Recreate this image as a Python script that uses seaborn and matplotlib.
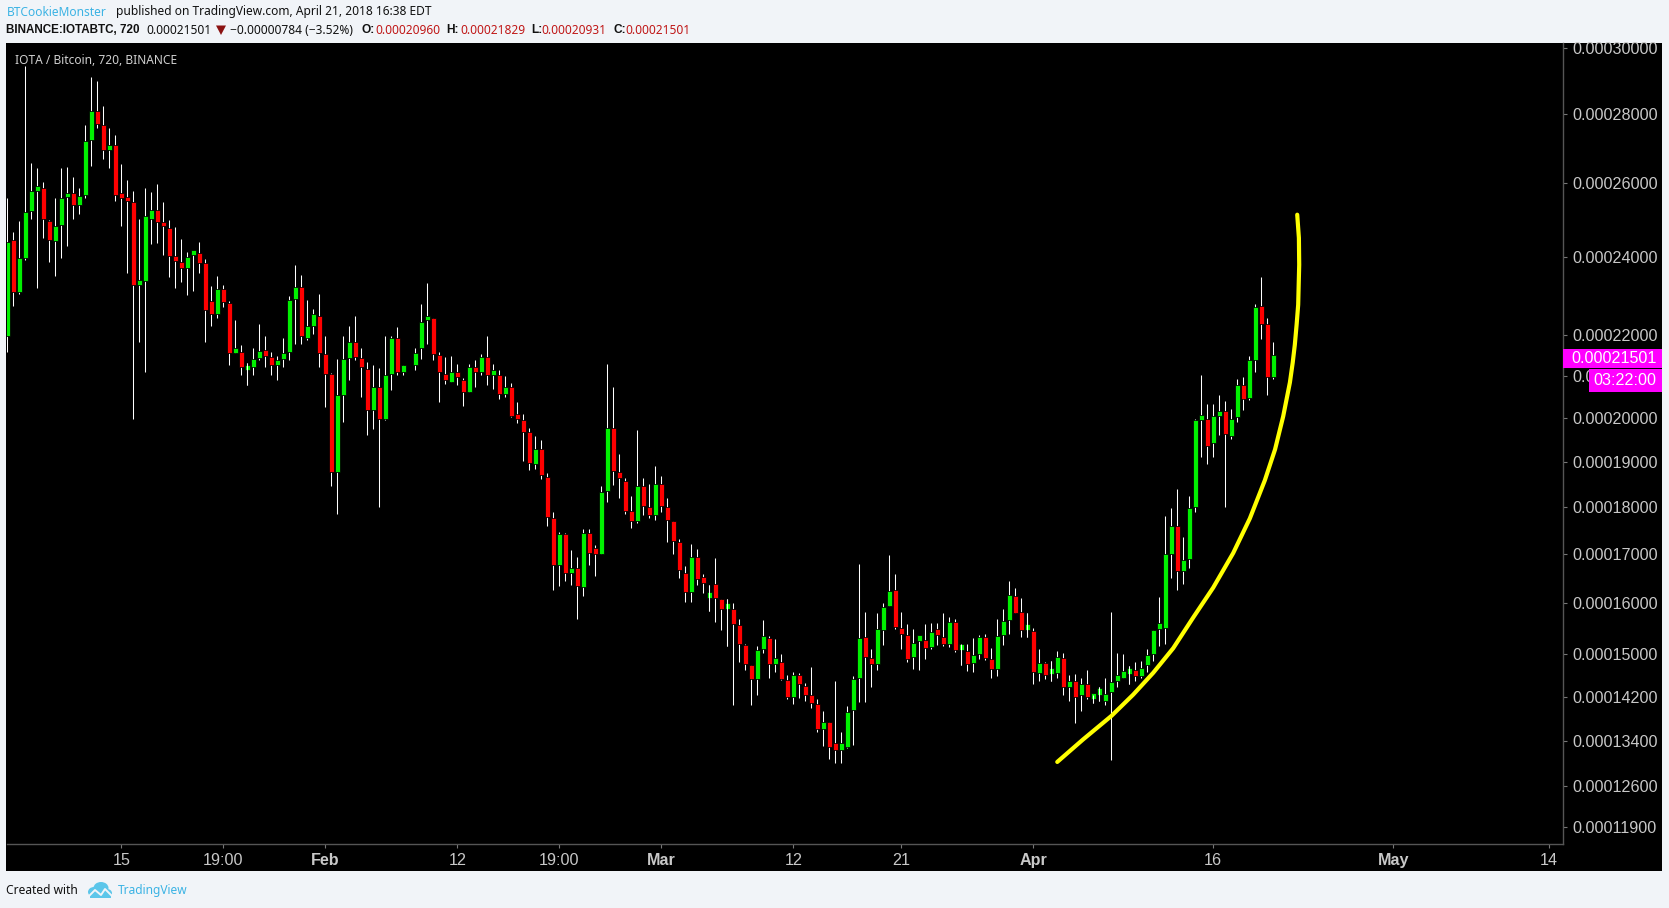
import numpy as np
import pandas as pd
import matplotlib
matplotlib.use('Agg')
import matplotlib.pyplot as plt
from matplotlib.patches import Rectangle, Ellipse, Polygon
import seaborn as sns

nan = float('nan')

# prices in satoshi, one bar every 720 minutes (bar 67 is the exchange outage)
opens = [
    21980, 24450, 23090, 23970, 25240, 25790, 25880, 24960, 24420, 24860,
    25620, 25740, 25400, 25680, 27220, 28070, 27660, 26950, 27100, 25620,
    25620, 25490, 23270, 23370, 25000, 25270, 24890, 24780, 24000, 23870,
    23710, 24050, 24100, 23840, 22860, 22510, 23170, 22800, 21560, 21580,
    21150, 21200, 21440, 21630, 21460, 21250, 21410, 21580, 22910, 23220,
    21910, 22230, 22480, 21530, 21050, 18770, 20530, 21440, 21810, 21440,
    21170, 20200, 20720, 19990, 21050, 21930, 21100, nan, 21270, 21680,
    22360, 22410, 21510, 21050, 20860, 21080, 20890, 20620, 21200, 21100,
    21460, 21010, 21030, 20570, 20740, 20040, 19950, 19670, 18950, 19280,
    18660, 17760, 16790, 17420, 16610, 16710, 16330, 17460, 17040, 17000,
    18350, 19770, 18770, 18570, 17930, 17700, 18460, 18000, 17830, 18500,
    18000, 17700, 17270, 16610, 16240, 16940, 16470, 16110, 16390, 16080,
    15880, 15880, 15570, 15190, 14790, 14530, 15110, 15310, 14810, 14860,
    14510, 14190, 14600, 14410, 14230, 14060, 13600, 13730, 13260, 13240,
    13290, 13950, 14560, 15330, 14940, 14810, 15470, 15940, 16280, 15490,
    15370, 14960, 15250, 15270, 15150, 15450, 15330, 15210, 15630, 15090,
    15070, 14830, 15000, 15330, 14920, 14730, 15370, 15680, 16140, 15820,
    15470, 15450, 14640, 14830, 14620, 14640, 14940, 14380, 14490, 14230,
    14430, 14150, 14240, 14130, 14280, 14490, 14560, 14620, 14640, 14580,
    14790, 15000, 15490, 15510, 17000, 17590, 16650, 16900, 18000, 19950,
    19990, 19420, 20040, 20160, 19580, 20020, 20790, 20480, 21390, 22730,
    22260, 20960,
]
closes = [
    24380, 23090, 23970, 25210, 25770, 25830, 25000, 24450, 24830, 25600,
    25740, 25400, 25650, 27190, 28070, 27710, 26950, 27100, 25680, 25600,
    25510, 23270, 23370, 25100, 25270, 24940, 24810, 24020, 23890, 23710,
    24000, 24100, 23840, 22610, 22510, 23170, 22830, 21560, 21580, 21200,
    21150, 21410, 21610, 21490, 21250, 21320, 21560, 22880, 23220, 21960,
    22210, 22510, 21560, 21050, 18770, 20530, 21410, 21810, 21460, 21220,
    20200, 20720, 19990, 21030, 21910, 21080, 21250, nan, 21560, 22330,
    22410, 21530, 21080, 20910, 21080, 20960, 20620, 21200, 21100, 21460,
    21010, 21050, 20570, 20740, 20060, 19970, 19690, 18970, 19280, 18700,
    17790, 16790, 17420, 16610, 16710, 16350, 17460, 17040, 17020, 18330,
    19770, 18790, 18640, 17930, 17700, 18460, 18020, 17830, 18500, 18020,
    17720, 17290, 16670, 16240, 16940, 16490, 16410, 16110, 16100, 15880,
    15880, 15590, 15210, 14810, 14530, 15090, 15350, 14810, 14860, 14530,
    14190, 14600, 14430, 14240, 14080, 13600, 13730, 13280, 13240, 13280,
    13910, 14530, 15310, 14960, 14810, 15490, 15920, 16260, 15530, 15390,
    14920, 15230, 15270, 15130, 15430, 15370, 15210, 15630, 15090, 15090,
    14810, 14980, 15330, 14940, 14730, 15350, 15660, 16160, 15800, 15470,
    15470, 14660, 14830, 14600, 14620, 14960, 14380, 14490, 14190, 14430,
    14190, 14150, 14240, 14260, 14470, 14560, 14660, 14620, 14580, 14750,
    14980, 15470, 15510, 17000, 17590, 16650, 16880, 17980, 19950, 19990,
    19370, 20040, 20160, 19630, 19990, 20790, 20450, 21370, 22700, 22280,
    20960, 21501,
]
highs = [
    25590, 24670, 24970, 29450, 26570, 26430, 26040, 24980, 25590, 26430,
    26460, 26180, 25870, 27660, 29100, 28980, 28230, 27590, 27380, 26550,
    26100, 25780, 25010, 25870, 25760, 25980, 25480, 24990, 24800, 24470,
    24120, 24120, 24390, 23940, 23240, 23500, 23270, 22860, 22380, 21760,
    21320, 21680, 22280, 21980, 21580, 21490, 21930, 22980, 23790, 23530,
    22880, 22660, 23040, 21980, 21060, 21410, 21980, 22210, 22470, 21670,
    21330, 21260, 21190, 21970, 21970, 22200, 21250, nan, 21670, 22770,
    23310, 22420, 21570, 21450, 21480, 21290, 20950, 21290, 21380, 21530,
    21970, 21290, 21140, 21000, 20830, 20380, 20100, 19760, 19590, 19500,
    18760, 17890, 17480, 17460, 17090, 16950, 17540, 17540, 17200, 18470,
    21290, 20730, 19180, 18650, 18250, 19720, 18650, 18500, 18900, 18680,
    18210, 17710, 17330, 16770, 17220, 17110, 16600, 16380, 16930, 16090,
    16090, 16010, 15700, 15200, 14800, 15160, 15680, 15360, 15300, 15010,
    14600, 14670, 14650, 14460, 14760, 14160, 13930, 13740, 14500, 13560,
    14030, 14580, 16810, 15820, 15100, 15800, 16010, 16990, 16600, 15820,
    15600, 15500, 15360, 15600, 15620, 15620, 15800, 15740, 15700, 15210,
    15210, 15310, 15380, 15400, 15120, 15700, 15880, 16460, 16320, 16110,
    15800, 15510, 15110, 14860, 14880, 15070, 15020, 14600, 14620, 14550,
    14710, 14230, 14380, 14560, 15820, 15020, 15000, 14770, 14860, 14880,
    15110, 15470, 16120, 17810, 17980, 18410, 17360, 18240, 19990, 21010,
    20320, 20340, 20550, 20410, 20220, 20930, 20980, 21490, 22780, 23470,
    22420, 21829,
]
lows = [
    21570, 22730, 23040, 23920, 25000, 23190, 24510, 23870, 23500, 23970,
    24290, 25000, 25160, 25600, 26500, 27570, 26700, 26440, 25510, 24810,
    23580, 19990, 21830, 21100, 24340, 24370, 24050, 23480, 23190, 23350,
    23010, 23110, 23580, 21830, 22210, 22430, 22710, 21250, 21550, 21010,
    20790, 21010, 21390, 21200, 21010, 20890, 21200, 21390, 21780, 21780,
    21860, 22010, 21200, 20250, 18460, 17850, 19900, 20910, 21370, 20500,
    19620, 19740, 18000, 19950, 20650, 21010, 21010, nan, 21150, 21410,
    21780, 21370, 20380, 20810, 20860, 20790, 20290, 20620, 20740, 21030,
    20790, 20690, 20450, 20500, 20020, 19880, 19010, 18810, 18840, 18610,
    17610, 16280, 16350, 16450, 16370, 15700, 16140, 16790, 16550, 17000,
    18110, 18480, 18210, 17850, 17550, 17660, 17830, 17760, 17720, 17910,
    17270, 17000, 16510, 16020, 16020, 16370, 16220, 15840, 15630, 15470,
    15170, 14040, 14850, 14710, 14040, 14230, 15020, 14560, 14660, 14520,
    14150, 14060, 14170, 14130, 14000, 13550, 13300, 13070, 13000, 13000,
    13260, 13330, 14100, 14100, 14390, 14710, 15190, 15940, 15490, 15110,
    14850, 14730, 14710, 14920, 15110, 15190, 15170, 15150, 15050, 14790,
    14680, 14660, 14920, 14900, 14560, 14580, 15190, 15390, 15800, 15330,
    15330, 14430, 14490, 14530, 14490, 14550, 14240, 14130, 13720, 13930,
    14150, 14080, 14130, 14040, 13050, 14380, 14560, 14430, 14490, 14550,
    14660, 14880, 15170, 15210, 16520, 16280, 16390, 16710, 17890, 19100,
    18950, 19100, 19600, 18000, 19510, 19900, 20200, 20430, 21100, 21890,
    20530, 20931,
]

# hand drawn yellow arc, bar number and price in satoshi
arc_bars = [175.0, 179.3, 184.06, 187.66, 191.0, 194.33, 197.66, 201.0, 204.33,
            207.1, 209.6, 211.3, 212.66, 213.78, 214.25, 214.6, 214.9, 215.16,
            215.33, 215.28, 215.0]
arc_prices = [13020, 13420, 13850, 14240, 14650, 15120, 15720, 16320, 17030,
              17760, 18590, 19280, 20040, 20840, 21320, 21755, 22255, 22755,
              23790, 24500, 25130]

price_ticks = [30000, 28000, 26000, 24000, 22000, 21000, 20000, 19000, 18000,
               17000, 16000, 15000, 14200, 13400, 12600, 11900]
date_ticks = [19, 36, 53, 75, 92, 109, 131, 149, 171, 201, 231, 257]
date_labels = ['15', '19:00', 'Feb', '12', '19:00', 'Mar', '12', '21', 'Apr',
               '16', 'May', '14']
bold_dates = ['Feb', 'Mar', 'Apr', 'May']

W, H = 1669, 908
SAT = 1e-8
SHIFT = 9e-5
BG = '#f1f4f8'
BLUE = '#3bb3e4'
RED = '#c01818'
HEAD = ['Noto Sans', 'DejaVu Sans']
HEAD_BOLD = ['Liberation Sans', 'DejaVu Sans']


def main():
    df = data()
    plot(df)


def data():
    df = pd.DataFrame({'open': opens, 'high': highs, 'low': lows, 'close': closes})
    df = df * SAT
    df['bar'] = range(len(df))
    return df


def box(fig, x0, y0, x1, y1, color, zorder):
    fig.add_artist(Rectangle((x0 / W, 1 - y1 / H), (x1 - x0) / W, (y1 - y0) / H,
                             transform=fig.transFigure, color=color, lw=0,
                             zorder=zorder))


def head(fig, x, y, s, color='#111111', weight='normal', size=8.6):
    family = HEAD_BOLD if weight == 'bold' else HEAD
    fig.text(x / W, 1 - y / H, s, color=color, fontweight=weight, fontsize=size,
             family=family, va='center', ha='left')


def plot(df):
    sns.set_theme(style='dark', rc={'axes.facecolor': 'black', 'figure.facecolor': BG})
    plt.rcParams['font.family'] = ['Liberation Sans', 'DejaVu Sans']

    fig = plt.figure(figsize=(W / 100, H / 100), dpi=100)
    box(fig, 6, 43, 1662, 871, 'black', -2)

    ax = fig.add_axes([6.5 / W, 1 - 844 / H, (1563 - 6.5) / W, (844 - 43) / H])
    ax.set_yscale('function', functions=(lambda v: np.log(v + SHIFT),
                                         lambda v: np.exp(v) - SHIFT))

    up = df[df.close >= df.open]
    down = df[df.close < df.open]
    wicks = ax.vlines(df.bar, df.low, df.high, color='white', lw=0.75, zorder=2)
    wicks.set_snap(True)
    ax.bar(up.bar, (up.close - up.open).clip(lower=1.2e-6), bottom=up.open, width=0.8,
           color='#00f000', edgecolor='black', lw=0.55, zorder=3)
    ax.bar(down.bar, (down.open - down.close).clip(lower=1.2e-6), bottom=down.close,
           width=0.8, color='#ff0000', edgecolor='black', lw=0.55, zorder=3)
    # bars without any range show as a plain wick
    flat = df[df.close == df.open]
    plain = ax.vlines(flat.bar, flat.low, flat.high, color='white', lw=0.75, zorder=4)
    plain.set_snap(True)

    arc = pd.DataFrame({'bar': arc_bars, 'price': np.array(arc_prices) * SAT})
    sns.lineplot(data=arc, x='bar', y='price', sort=False, estimator=None,
                 color='#ffff00', lw=3.0, ax=ax, zorder=5)

    ax.set_xlim(-0.14, 259.3)
    ax.set_ylim(11.62e-5, 30.16e-5)
    ax.set_xlabel('')
    ax.set_ylabel('')

    ax.yaxis.tick_right()
    ax.set_yticks(np.array(price_ticks) * SAT)
    ax.set_yticklabels(['%.8f' % (p * SAT) for p in price_ticks])
    ax.minorticks_off()
    ax.set_xticks(date_ticks)
    ax.set_xticklabels(date_labels)
    ax.tick_params(axis='y', which='both', right=True, left=False, length=3, width=0.8,
                   color='#777777', labelcolor='#c8c8c8', labelsize=11.6, pad=3.5)
    ax.tick_params(axis='x', bottom=True, length=3, width=0.8, color='#777777',
                   labelcolor='#c8c8c8', labelsize=11.6, pad=3.5)
    for label in ax.get_xticklabels():
        if label.get_text() in bold_dates:
            label.set_fontweight('bold')
    for side in ['top', 'left']:
        ax.spines[side].set_visible(False)
    for side in ['right', 'bottom']:
        ax.spines[side].set_color('#555555')
        ax.spines[side].set_linewidth(1)

    # price and countdown flags on the scale
    box(fig, 1563, 349, 1662, 368, '#ff00ff', 6)
    box(fig, 1589, 369, 1662, 392, '#ff00ff', 6)
    for x, y, s in [(1571, 358, '0.00021501'), (1593, 380.5, '03:22:00')]:
        t = fig.text(x / W, 1 - y / H, s, color='white', fontsize=11.6, va='center')
        t.set_zorder(7)

    # header lines
    head(fig, 6.4, 12, 'BTCookieMonster', BLUE)
    head(fig, 115.7, 12, 'published on TradingView.com, April 21, 2018 16:38 EDT')
    head(fig, 6.4, 30, 'BINANCE:IOTABTC, 720', weight='bold', size=8.4)
    head(fig, 146, 30, '0.00021501')
    fig.add_artist(Polygon([(216 / W, 1 - 25.5 / H), (226 / W, 1 - 25.5 / H),
                            (221 / W, 1 - 35 / H)], transform=fig.transFigure,
                           color='#8b1212', lw=0))
    head(fig, 230, 30, '\u22120.00000784 (\u22123.52%)')
    for x, s in [(361.3, 'O:'), (446.3, 'H:'), (531.2, 'L:'), (613, 'C:')]:
        head(fig, x, 30, s, weight='bold')
    for x, s in [(375, '0.00020960'), (460, '0.00021829'), (541.8, '0.00020931'),
                 (624.9, '0.00021501')]:
        head(fig, x, 30, s, RED)
    head(fig, 15, 60.5, 'IOTA / Bitcoin, 720, BINANCE', '#d0d0d0')

    # footer with the cloud logo
    head(fig, 6.3, 890.5, 'Created with')
    head(fig, 118, 890.5, 'TradingView', BLUE)
    for cx, cy, w, h in [(94, 892, 12, 10), (101, 888, 15, 12), (107, 893, 10, 8)]:
        fig.add_artist(Ellipse((cx / W, 1 - cy / H), w / W, h / H,
                               transform=fig.transFigure, color='#5cc6ea', lw=0))
    box(fig, 90, 893, 111, 898, '#5cc6ea', 1)
    fig.add_artist(plt.Line2D([88 / W, 95 / W, 101 / W, 105 / W, 113 / W],
                              [1 - 897 / H, 1 - 890 / H, 1 - 895 / H, 1 - 889 / H, 1 - 897 / H],
                              color=BG, lw=1.4, transform=fig.transFigure))

    fig.savefig('out.png', dpi=100)


if __name__ == '__main__':
    main()
